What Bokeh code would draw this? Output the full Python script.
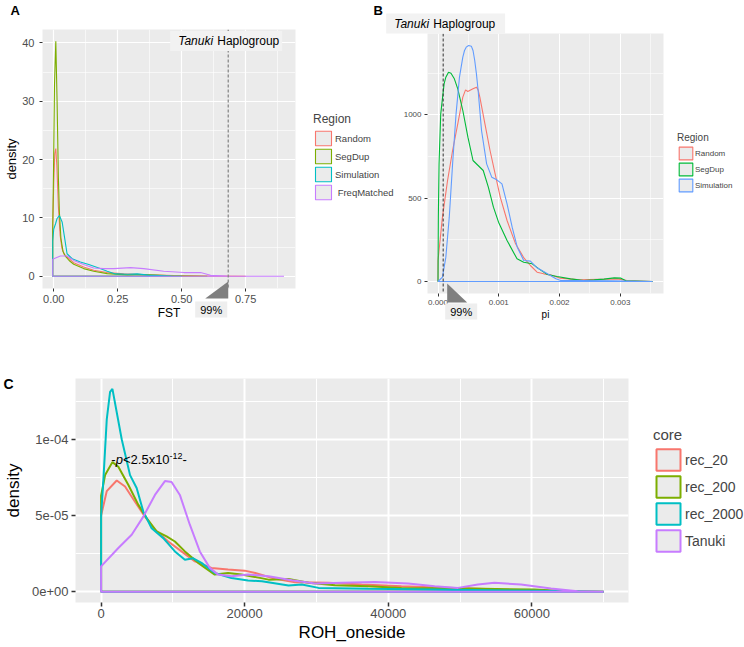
from bokeh.plotting import figure
from bokeh.models import FixedTicker, Range1d, Legend, LegendItem, Label, Span
from bokeh.layouts import row, column
from bokeh.embed import file_html
from bokeh.resources import INLINE

FONT = "Liberation Sans"
PANEL_BG = "#EBEBEB"

# ---------------- Panel A : FST densities ----------------
A_names = ["Random", "SegDup", "Simulation", "\u00a0FreqMatched"]
A_colors = ["#F8766D", "#7CAE00", "#00BFC4", "#C77CFF"]
A_random_x = [-0.004, 0.0, 0.004, 0.008, 0.012, 0.018, 0.025, 0.032, 0.04, 0.052, 0.078,
              0.117, 0.156, 0.209, 0.274, 0.365, 0.47, 0.6, 0.75]
A_random_y = [8, 16, 21, 21.9, 19, 12, 7, 4.8, 3.8, 3.3, 2.33, 1.6, 1.02, 0.63, 0.4, 0.23,
              0.11, 0.05, 0.0]
A_segdup_x = [-0.004, -0.001, 0.003, 0.008, 0.013, 0.018, 0.022, 0.028, 0.036, 0.046, 0.06,
              0.078, 0.117, 0.156, 0.209, 0.287, 0.352, 0.443, 0.6]
A_segdup_y = [8, 18, 33, 40.3, 30, 17, 11, 6.5, 4.3, 3.4, 2.7, 2.05, 1.31, 0.85, 0.45, 0.23,
              0.3, 0.1, 0.0]
A_sim_x = [-0.004, 0.0, 0.007, 0.013, 0.022, 0.033, 0.042, 0.052, 0.072, 0.104, 0.137, 0.176,
           0.209, 0.241, 0.29, 0.326, 0.37, 0.46, 0.5]
A_sim_y = [6.0, 8.1, 9.0, 9.9, 10.4, 9.25, 6.7, 3.86, 3.0, 2.45, 2.0, 1.42, 0.85, 0.4, 0.35,
           0.4, 0.2, 0.05, 0.0]
A_freq_x = [-0.004, 0.007, 0.026, 0.052, 0.078, 0.117, 0.156, 0.196, 0.235, 0.30, 0.352,
            0.43, 0.509, 0.574, 0.613, 0.678, 0.75, 0.9]
A_freq_y = [2.9, 3.13, 3.47, 3.47, 2.72, 2.0, 1.42, 1.31, 1.31, 1.48, 1.31, 0.85, 0.63, 0.63,
            0.17, 0.03, 0.01, 0.0]
A_fst_99 = 0.682
A_xr = (-0.044, 0.945)
A_yr = (-2.1, 42.3)
A_x_ticks = [0, 0.25, 0.5, 0.75]
A_x_labels = ["0.00", "0.25", "0.50", "0.75"]
A_x_minor = [0.125, 0.375, 0.625, 0.875]
A_y_ticks = [0, 10, 20, 30, 40]
A_y_labels = ["0", "10", "20", "30", "40"]
A_y_minor = [5, 15, 25, 35]

# ---------------- Panel B : pi densities ----------------
B_names = ["Random", "SegDup", "Simulation"]
B_colors = ["#F8766D", "#00BA38", "#619CFF"]
B_random_x = [0, 0.0000727, 0.000157, 0.00024, 0.000325, 0.000408, 0.000453, 0.00049,
              0.00052, 0.000576, 0.000632, 0.00066, 0.000688, 0.000772, 0.000856, 0.00094,
              0.001024, 0.001136, 0.001276, 0.001416, 0.00152, 0.00163, 0.00174, 0.00185,
              0.00201, 0.00234, 0.00278, 0.00295, 0.00311, 0.00353]
B_random_y = [126, 386, 606, 786, 946, 1106, 1150, 1140, 1146, 1156, 1166, 1150, 1106, 946,
              786, 646, 506, 366, 226, 140, 96, 56, 46, 40, 20, 10, 14, 16, 6, 0]
B_segdup_x = [0, 0.0000056, 0.0000168, 0.0000448, 0.0001, 0.000129, 0.000173, 0.000213,
              0.000269, 0.000325, 0.000408, 0.000492, 0.000576, 0.00066, 0.000744, 0.000828,
              0.000912, 0.000996, 0.001136, 0.0013, 0.00141, 0.00155, 0.00166, 0.0018,
              0.00196, 0.00218, 0.0024, 0.00257, 0.00273, 0.0029, 0.00301, 0.00309, 0.00353]
B_segdup_y = [0, 386, 706, 1006, 1186, 1226, 1256, 1250, 1216, 1156, 1026, 866, 726, 696, 666,
              566, 446, 356, 246, 136, 116, 106, 76, 42, 30, 16, 6, 10, 14, 22, 20, 4, 0]
B_sim_x = [0, 0.0000727, 0.000129, 0.000185, 0.00024, 0.000297, 0.000353, 0.000408, 0.000436,
           0.000464, 0.000504, 0.000548, 0.000576, 0.000604, 0.000632, 0.00066, 0.000688,
           0.000716, 0.0008, 0.000884, 0.000968, 0.001052, 0.001136, 0.00122, 0.001304,
           0.00141, 0.00152, 0.00163, 0.0018, 0.00194, 0.00202, 0.00234, 0.0028, 0.00353]
B_sim_y = [0, 26, 146, 386, 706, 1006, 1226, 1346, 1386, 1406, 1416, 1412, 1386, 1326, 1246,
           1146, 1026, 906, 706, 626, 610, 586, 466, 326, 206, 126, 122, 82, 46, 16, 6, 6, 4, 0]
B_pi_99 = 0.000085
B_xr = (-0.000173, 0.00371)
B_yr = (-72, 1488)
B_x_ticks = [0, 0.001, 0.002, 0.003]
B_x_labels = ["0.000", "0.001", "0.002", "0.003"]
B_x_minor = [0.0005, 0.0015, 0.0025, 0.0035]
B_y_ticks = [0, 500, 1000]
B_y_labels = ["0", "500", "1000"]
B_y_minor = [250, 750, 1250]

# ---------------- Panel C : ROH_oneside densities (values in 1e-5) ----------------
C_names = ["rec_20", "rec_200", "rec_2000", "Tanuki"]
C_colors = ["#F8766D", "#7CAE00", "#00BFC4", "#C77CFF"]
C_rec20_x = [0, 787, 2176, 3330, 4720, 6110, 7500, 9350, 11200, 13060, 15370, 17690, 20000,
             21480, 24250, 27030, 31660, 36290, 41840, 49250, 55730, 65000, 70000]
C_rec20_y = [5.0, 6.6, 7.3, 6.9, 5.9, 4.93, 4.07, 3.3, 2.65, 2.0, 1.57, 1.46, 1.39, 1.24, 0.85,
             0.63, 0.59, 0.48, 0.37, 0.26, 0.15, 0.04, 0.0]
C_rec200_x = [0, 556, 1574, 2400, 3800, 5190, 6340, 7730, 9120, 10280, 11670, 13520, 15830,
              17690, 19540, 22300, 23330, 26110, 28890, 32590, 37220, 41840, 51100, 60360,
              65000, 70000]
C_rec200_y = [6.3, 7.65, 8.5, 8.2, 7.0, 5.7, 4.83, 3.96, 3.63, 3.3, 2.65, 1.9, 1.13, 1.24,
              1.13, 0.9, 0.8, 0.85, 0.59, 0.44, 0.37, 0.26, 0.22, 0.15, 0.04, 0.0]
C_rec2000_x = [0, 324, 787, 1250, 1574, 2870, 4030, 4950, 5880, 7040, 8660, 10280, 11670,
               12830, 13980, 15830, 18150, 20460, 22400, 26110, 27960, 30280, 37220, 46470,
               60360, 70000]
C_rec2000_y = [5.0, 7.4, 11.3, 13.1, 13.3, 10.0, 7.65, 6.8, 5.26, 4.17, 3.52, 2.65, 2.1, 2.2,
               1.9, 1.24, 0.91, 0.75, 0.69, 0.41, 0.48, 0.26, 0.2, 0.15, 0.07, 0.0]
C_tanuki_x = [0, 2400, 4260, 5880, 7500, 8890, 9815, 10970, 12360, 13750, 15140, 16300,
              18150, 20460, 23330, 26570, 29810, 33520, 38150, 42770, 46470, 49710, 52480,
              54800, 58500, 62670, 66370, 70000]
C_tanuki_y = [1.67, 2.87, 3.74, 4.93, 6.35, 7.26, 7.2, 6.35, 4.4, 2.65, 1.57, 1.13, 1.02, 1.13,
              1.02, 0.76, 0.54, 0.59, 0.65, 0.54, 0.37, 0.26, 0.48, 0.59, 0.48, 0.22, 0.04, 0.0]
C_scale = 1e-5
C_xr = (-3567, 73463)
C_yr = (-6.98e-6, 1.398e-4)
C_x_ticks = [0, 20000, 40000, 60000]
C_x_labels = ["0", "20000", "40000", "60000"]
C_x_minor = [10000, 30000, 50000, 70000]
C_y_ticks = [0, 5e-5, 1e-4]
C_y_labels = ["0e+00", "5e-05", "1e-04"]
C_y_minor = [2.5e-5, 7.5e-5, 1.25e-4]
C_note_x = 1430
C_note_y = 8.66e-5

# ---------------- page geometry (pixels) ----------------
PAGE_W, PAGE_H = 744, 647
A_W, A_H = 400, 322
A_FRAME_L, A_FRAME_R, A_FRAME_T, A_FRAME_B = 42, 295, 29, 289
B_X0 = A_W
B_FRAME_L, B_FRAME_R, B_FRAME_T, B_FRAME_B = 427, 663, 33, 293


def closed(x, y):
    return [x[0]] + list(x) + [x[-1]], [0] + list(y) + [0]


def draw_density(p, x, y, color, lw, visible=True):
    px, py = closed(x, y)
    f = p.patch(px, py, fill_color=PANEL_BG, line_alpha=0, level="image", visible=visible)
    l = p.patch(px, py, fill_alpha=0, line_color=color, line_width=lw, visible=visible)
    return [f, l]


def style(p, tick_px, tick_len, tick_w, major_w, minor_w, title_px, lab_stand, title_stand,
          xt, xl, xm, yt, yl, ym):
    p.background_fill_color = PANEL_BG
    p.outline_line_color = None
    p.grid.grid_line_color = "white"
    p.grid.grid_line_width = major_w
    p.grid.minor_grid_line_color = "white"
    p.grid.minor_grid_line_width = minor_w
    xtk = FixedTicker(ticks=xt, minor_ticks=xm)
    ytk = FixedTicker(ticks=yt, minor_ticks=ym)
    p.xaxis.ticker = xtk
    p.yaxis.ticker = ytk
    p.xgrid.ticker = xtk
    p.ygrid.ticker = ytk
    p.xaxis.major_label_overrides = {t: s for t, s in zip(xt, xl)}
    p.yaxis.major_label_overrides = {t: s for t, s in zip(yt, yl)}
    for ax in p.axis:
        ax.axis_line_color = None
        ax.major_tick_in = 0
        ax.major_tick_out = tick_len
        ax.major_tick_line_color = "#333333"
        ax.major_tick_line_width = tick_w
        ax.minor_tick_line_color = None
        ax.major_label_text_font = FONT
        ax.major_label_text_font_size = f"{tick_px}px"
        ax.major_label_text_color = "#4D4D4D"
        ax.major_label_standoff = lab_stand
        ax.axis_label_text_font = FONT
        ax.axis_label_text_font_size = f"{title_px}px"
        ax.axis_label_text_font_style = "normal"
        ax.axis_label_text_color = "black"
        ax.axis_label_standoff = title_stand


def add_label(p, text, x, y, size, style_="normal", align="left", baseline="middle",
              color="black", x_offset=0, y_offset=0, bg=None, pad=None):
    kw = {}
    if bg is not None:
        kw["background_fill_color"] = bg
    if pad is not None:
        kw["padding"] = pad
    lab = Label(x=x, y=y, text=text, text_font=FONT, text_font_size=f"{size}px",
                text_font_style=style_, text_align=align, text_baseline=baseline,
                text_color=color, x_offset=x_offset, y_offset=y_offset, **kw)
    p.add_layout(lab)


def make_legend(items, title, loc, title_px, lab_px, gw, gh, stand, title_stand):
    return Legend(items=items, location=loc, title=title, title_text_font=FONT,
                  title_text_font_size=f"{title_px}px", title_text_font_style="normal",
                  title_standoff=title_stand, label_text_font=FONT,
                  label_text_font_size=f"{lab_px}px", label_standoff=stand, glyph_width=gw,
                  glyph_height=gh, label_height=gh, spacing=0, padding=0, margin=0,
                  border_line_color=None, background_fill_alpha=0)


# ================= Figure A =================
pA = figure(width=A_W, height=A_H, x_range=Range1d(*A_xr), y_range=Range1d(*A_yr),
            output_backend="svg", toolbar_location=None, title=None,
            min_border_left=A_FRAME_L, min_border_right=A_W - A_FRAME_R,
            min_border_top=A_FRAME_T, min_border_bottom=A_H - A_FRAME_B,
            x_axis_label="FST", y_axis_label="density")
style(pA, 11, 3, 1, 1.2, 0.6, 12, 2, 0, A_x_ticks, A_x_labels, A_x_minor,
      A_y_ticks, A_y_labels, A_y_minor)
pA.yaxis.axis_label_text_font_size = "13px"
pA.yaxis.major_label_standoff = 4
A_series = [(A_random_x, A_random_y), (A_segdup_x, A_segdup_y), (A_sim_x, A_sim_y),
            (A_freq_x, A_freq_y)]
for (x, y), c in zip(A_series, A_colors):
    draw_density(pA, x, y, c, 1.1)
pA.add_layout(Span(location=A_fst_99, dimension="height", line_color="#808080",
                   line_dash="3 2", line_width=1.2))

# ================= Figure B =================
B_W = PAGE_W - B_X0
pB = figure(width=B_W, height=A_H, x_range=Range1d(*B_xr), y_range=Range1d(*B_yr),
            output_backend="svg", toolbar_location=None, title=None,
            min_border_left=B_FRAME_L - B_X0, min_border_right=PAGE_W - B_FRAME_R,
            min_border_top=B_FRAME_T, min_border_bottom=A_H - B_FRAME_B, x_axis_label="pi")
style(pB, 8, 3, 1, 1.1, 0.55, 10, 2, 1, B_x_ticks, B_x_labels, B_x_minor,
      B_y_ticks, B_y_labels, B_y_minor)
B_series = [(B_random_x, B_random_y), (B_segdup_x, B_segdup_y), (B_sim_x, B_sim_y)]
for (x, y), c in zip(B_series, B_colors):
    draw_density(pB, x, y, c, 1.1)
pB.add_layout(Span(location=B_pi_99, dimension="height", line_color="#333333",
                   line_dash="3 2", line_width=1))

# ================= Figure C =================
pC = figure(width=PAGE_W, height=PAGE_H - A_H, x_range=Range1d(*C_xr),
            y_range=Range1d(*C_yr), output_backend="svg", toolbar_location=None, title=None,
            min_border_left=73, min_border_right=116, min_border_top=56,
            min_border_bottom=45, x_axis_label="ROH_oneside", y_axis_label="density")
style(pC, 13, 4, 1.5, 2, 1, 17, 3, 2, C_x_ticks, C_x_labels, C_x_minor,
      C_y_ticks, C_y_labels, C_y_minor)
pC.yaxis.axis_label_standoff = 6
pC.xaxis.major_label_standoff = 2
C_series = [(C_rec20_x, C_rec20_y), (C_rec200_x, C_rec200_y), (C_rec2000_x, C_rec2000_y),
            (C_tanuki_x, C_tanuki_y)]
C_series = [(x, [v * C_scale for v in y]) for x, y in C_series]
for (x, y), c in zip(C_series, C_colors):
    draw_density(pC, x, y, c, 2)
note_parts = [("-", 0, "normal", 13, 0), ("p", 4.3, "italic", 13, 0),
              ("<2.5x10", 11.6, "normal", 13, 0), ("-12", 58.2, "normal", 9, 4),
              ("-", 71.2, "normal", 13, 0)]
for txt, dx, st, sz, dy in note_parts:
    add_label(pC, txt, C_note_x, C_note_y, sz, st, baseline="alphabetic",
              x_offset=dx, y_offset=dy)

# ======== overlay (page pixel space): legends, panel letters, threshold call-outs ========
ov = figure(width=PAGE_W, height=PAGE_H, x_range=Range1d(0, PAGE_W),
            y_range=Range1d(PAGE_H, 0), x_axis_type=None, y_axis_type=None,
            output_backend="svg", toolbar_location=None, title=None, min_border=0)
ov.background_fill_color = None
ov.border_fill_color = None
ov.outline_line_color = None

# legends: keys drawn from hidden copies of each panel's density outlines
for series, colors, names, lw, title, loc, sizes in [
        (A_series, A_colors, A_names, 1.1, "Region", (313, PAGE_H - 201),
         (12, 9.5, 20, 18, 2, 3)),
        (B_series, B_colors, B_names, 1.1, "Region", (677, PAGE_H - 193),
         (10, 8, 17, 16, 1, 2)),
        (C_series, C_colors, C_names, 2, "core", (653, PAGE_H - 554),
         (15, 14, 30, 27, 2, 3))]:
    items = [LegendItem(label=n, renderers=draw_density(ov, x, y, c, lw, visible=False))
             for (x, y), c, n in zip(series, colors, names)]
    ov.add_layout(make_legend(items, title, loc, *sizes))


def px_a(v):
    return A_FRAME_L + (v - A_xr[0]) / (A_xr[1] - A_xr[0]) * (A_FRAME_R - A_FRAME_L)


def px_b(v):
    return B_FRAME_L + (v - B_xr[0]) / (B_xr[1] - B_xr[0]) * (B_FRAME_R - B_FRAME_L)


xa, xb = px_a(A_fst_99), px_b(B_pi_99)
ov.patches(xs=[[xa - 23, xa, xa], [xb + 4, xb + 4, xb + 24]],
           ys=[[298, 298, 281], [283, 302, 302]], fill_color="#7F7F7F", line_color=None)
# "Tanuki Haplogroup" call-outs
add_label(ov, "Tanuki", xa, 40.5, 12, "italic", x_offset=-58, bg="#F2F2F2",
          pad=dict(left=8, right=69, top=3, bottom=3))
add_label(ov, "Haplogroup", xa, 40.5, 12, x_offset=-11)
add_label(ov, "Tanuki", xb, 23, 12, "italic", x_offset=-57, bg="#F2F2F2",
          pad=dict(left=8, right=76, top=3, bottom=3))
add_label(ov, "Haplogroup", xb, 23, 12, x_offset=-10)
# 99% call-outs
add_label(ov, "99%", xa, 309, 11, align="center", x_offset=-17, bg="#EEEEEE",
          pad=dict(left=5, right=5, top=2, bottom=2))
add_label(ov, "99%", xb, 311, 11, align="center", x_offset=18, bg="#EEEEEE",
          pad=dict(left=5, right=5, top=2, bottom=2))
# panel letters
add_label(ov, "A", 10, 2, 13, "bold", baseline="top")
add_label(ov, "B", 373, 2, 13, "bold", baseline="top")
add_label(ov, "C", 3, 375, 14, "bold", baseline="top")

top = row(column(pA), column(pB))
layout = column(top, column(pC), column(ov, margin=(-PAGE_H, 0, 0, 0)))
open("out.html", "w").write(file_html(layout, INLINE))
